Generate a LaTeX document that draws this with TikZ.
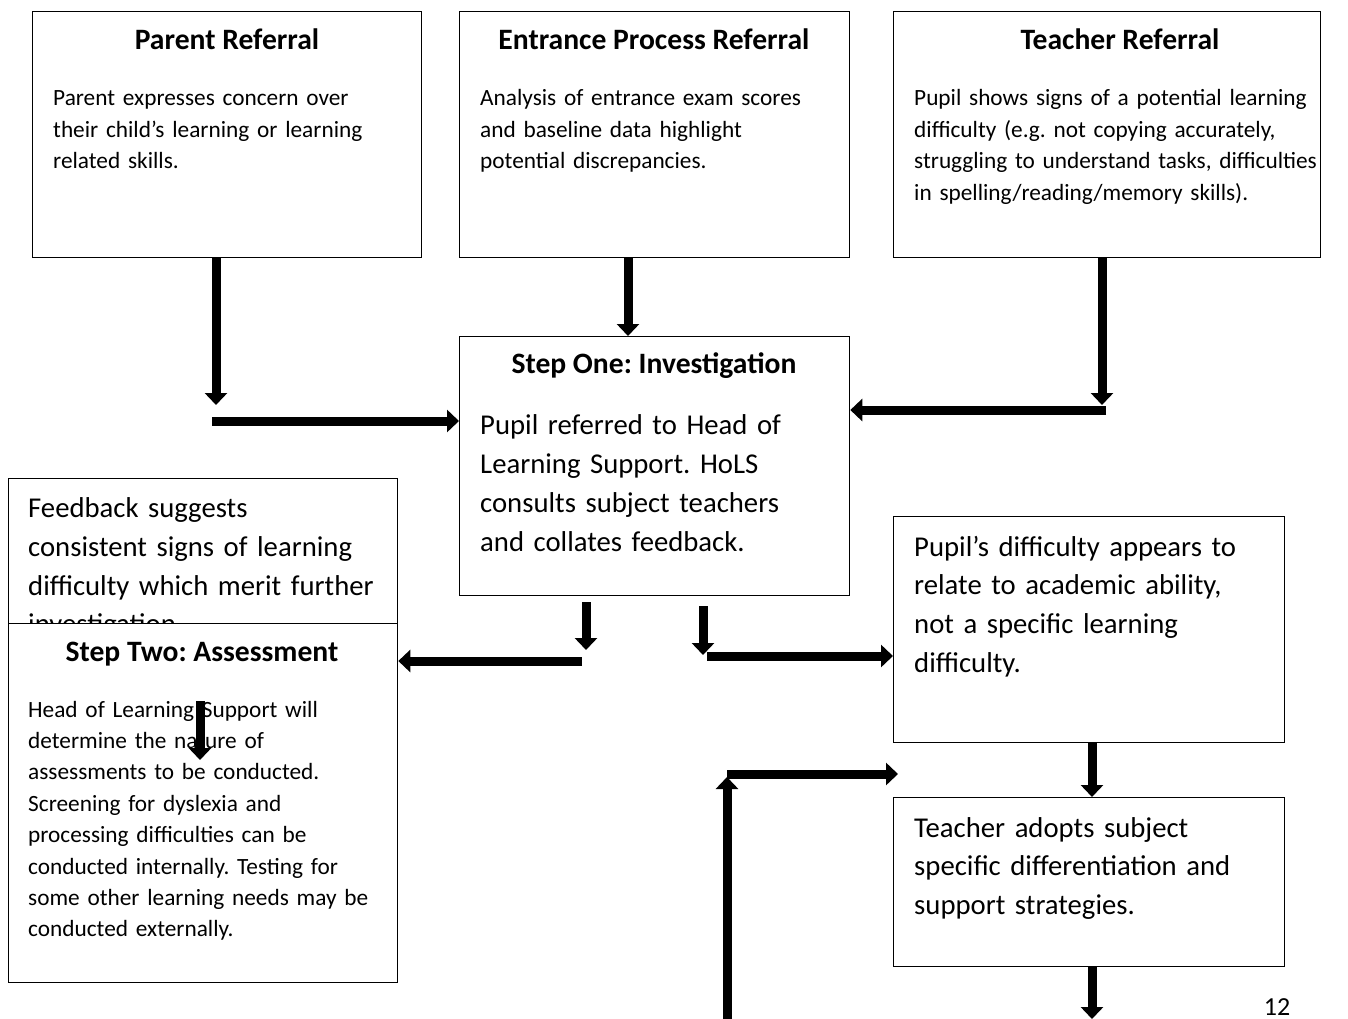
\documentclass[tikz,border=0pt]{standalone}
\usepackage{fontspec}
\setmainfont{Carlito}
\usetikzlibrary{arrows.meta}
\frenchspacing
\newcommand{\bodyfont}{\fontsize{23.3}{31.5}\selectfont}
\newcommand{\largefont}{\fontsize{28.7}{38.8}\selectfont}
\newcommand{\headfont}{\fontsize{29.6}{34}\selectfont\bfseries}
\newcommand{\pagefont}{\fontsize{26}{30}\selectfont}
\begin{document}
\begin{tikzpicture}[x=1pt,y=-1pt,
  box/.style={draw=black, line width=1.3pt, fill=white, anchor=north west, inner sep=0pt},
  head/.style={anchor=base, inner sep=0pt, font=\headfont},
  bodytext/.style={anchor=base west, inner sep=0pt, align=left, text width=430pt, font=\bodyfont\frenchspacing},
  bigtext/.style={anchor=base west, inner sep=0pt, align=left, text width=430pt, font=\largefont\frenchspacing},
  arr/.style={line width=9pt, -{Triangle[width=22pt,length=12pt]}}
]
\useasboundingbox[fill=white] (0,0) rectangle (1348,1019);

% top boxes
\node[box, minimum width=389pt, minimum height=246pt] (parent) at (32,11) {};
\node[box, minimum width=390pt, minimum height=246pt] (entrance) at (459,11) {};
\node[box, minimum width=427pt, minimum height=246pt] (teacher) at (893,11) {};

\node[head] (parentH) at (227,49.5) {Parent Referral};
\node[bodytext] (parentT) at (53,106) {Parent expresses concern over\\their child’s learning or learning\\related skills.};

\node[head] (entranceH) at (654,49.5) {Entrance Process Referral};
\node[bodytext] (entranceT) at (480,106) {Analysis of entrance exam scores\\and baseline data highlight\\potential discrepancies.};

\node[head] (teacherH) at (1120,49.5) {Teacher Referral};
\node[bodytext] (teacherT) at (914,106) {Pupil shows signs of a potential learning\\difficulty (e.g. not copying accurately,\\struggling to understand tasks, difficulties\\in spelling/reading/memory skills).};

% step one
\node[box, minimum width=390pt, minimum height=259pt] (stepone) at (459,336) {};
\node[head] (steponeH) at (654,373) {Step One: Investigation};
\node[bigtext, font=\fontsize{28.7}{39}\selectfont] (steponeT) at (480,434) {Pupil referred to Head of\\Learning Support. HoLS\\consults subject teachers\\and collates feedback.};

% right boxes
\node[box, minimum width=391pt, minimum height=226pt] (academic) at (893,516) {};
\node[bigtext] (academicT) at (914,556) {Pupil’s difficulty appears to\\relate to academic ability,\\not a specific learning\\difficulty.};

\node[box, minimum width=391pt, minimum height=169pt] (differ) at (893,797) {};
\node[bigtext] (differT) at (914,837) {Teacher adopts subject\\specific differentiation and\\support strategies.};

% feedback box (partly hidden)
\node[box, minimum width=389pt, minimum height=227pt] (feedback) at (8,478) {};
\node[bigtext] (feedbackT) at (28,517.5) {Feedback suggests\\consistent signs of learning\\difficulty which merit further\\investigation.};

% step two
\node[box, minimum width=389pt, minimum height=359pt] (steptwo) at (8,623) {};
\node[head] (steptwoH) at (202,661) {Step Two: Assessment};
\node[bodytext, font=\fontsize{23.3}{31.4}\selectfont] (steptwoT) at (28,717) {Head of Learning Support will\\determine the nature of\\assessments to be conducted.\\Screening for dyslexia and\\processing difficulties can be\\conducted internally. Testing for\\some other learning needs may be\\conducted externally.};

% page number
\node[anchor=base, inner sep=0pt, font=\pagefont] (pagenum) at (1277,1015) {12};

% coordinates
\coordinate (p1) at (216,405);
\coordinate (p2) at (212,421);
\coordinate (e1) at (628,300);
\coordinate (t1) at (1102,405);
\coordinate (t2) at (1106,410);
\coordinate (s1) at (586,602);
\coordinate (s1e) at (586,650);
\coordinate (s2) at (582,661);
\coordinate (r1) at (703,606);
\coordinate (r1e) at (703,655);
\coordinate (r2) at (707,656);
\coordinate (d1) at (1092,700);
\coordinate (d2) at (1092,1019);
\coordinate (l1) at (727,1019);
\coordinate (l1e) at (727,777);
\coordinate (l2) at (727,774);
\coordinate (l2e) at (898,774);
\coordinate (a1) at (200,701);
\coordinate (a2) at (200,760);

% arrows
\draw[arr] (parent.south -| p1) -- (p1);
\draw[arr] (p2) -- (p2 -| stepone.west);
\draw[arr] (entrance.south -| e1) -- (stepone.north -| e1);
\draw[arr] (teacher.south -| t1) -- (t1);
\draw[arr] (t2) -- (t2 -| stepone.east);
\draw[arr] (s1) -- (s1e);
\draw[arr] (s2) -- (s2 -| steptwo.east);
\draw[arr] (r1) -- (r1e);
\draw[arr] (r2) -- (r2 -| academic.west);
\draw[arr] (academic.south -| d1) -- (differ.north -| d1);
\draw[arr] (differ.south -| d2) -- (d2);
\draw[arr] (l1) -- (l1e);
\draw[arr] (l2) -- (l2e);
\draw[arr] (a1) -- (a2);
\end{tikzpicture}
\end{document}
